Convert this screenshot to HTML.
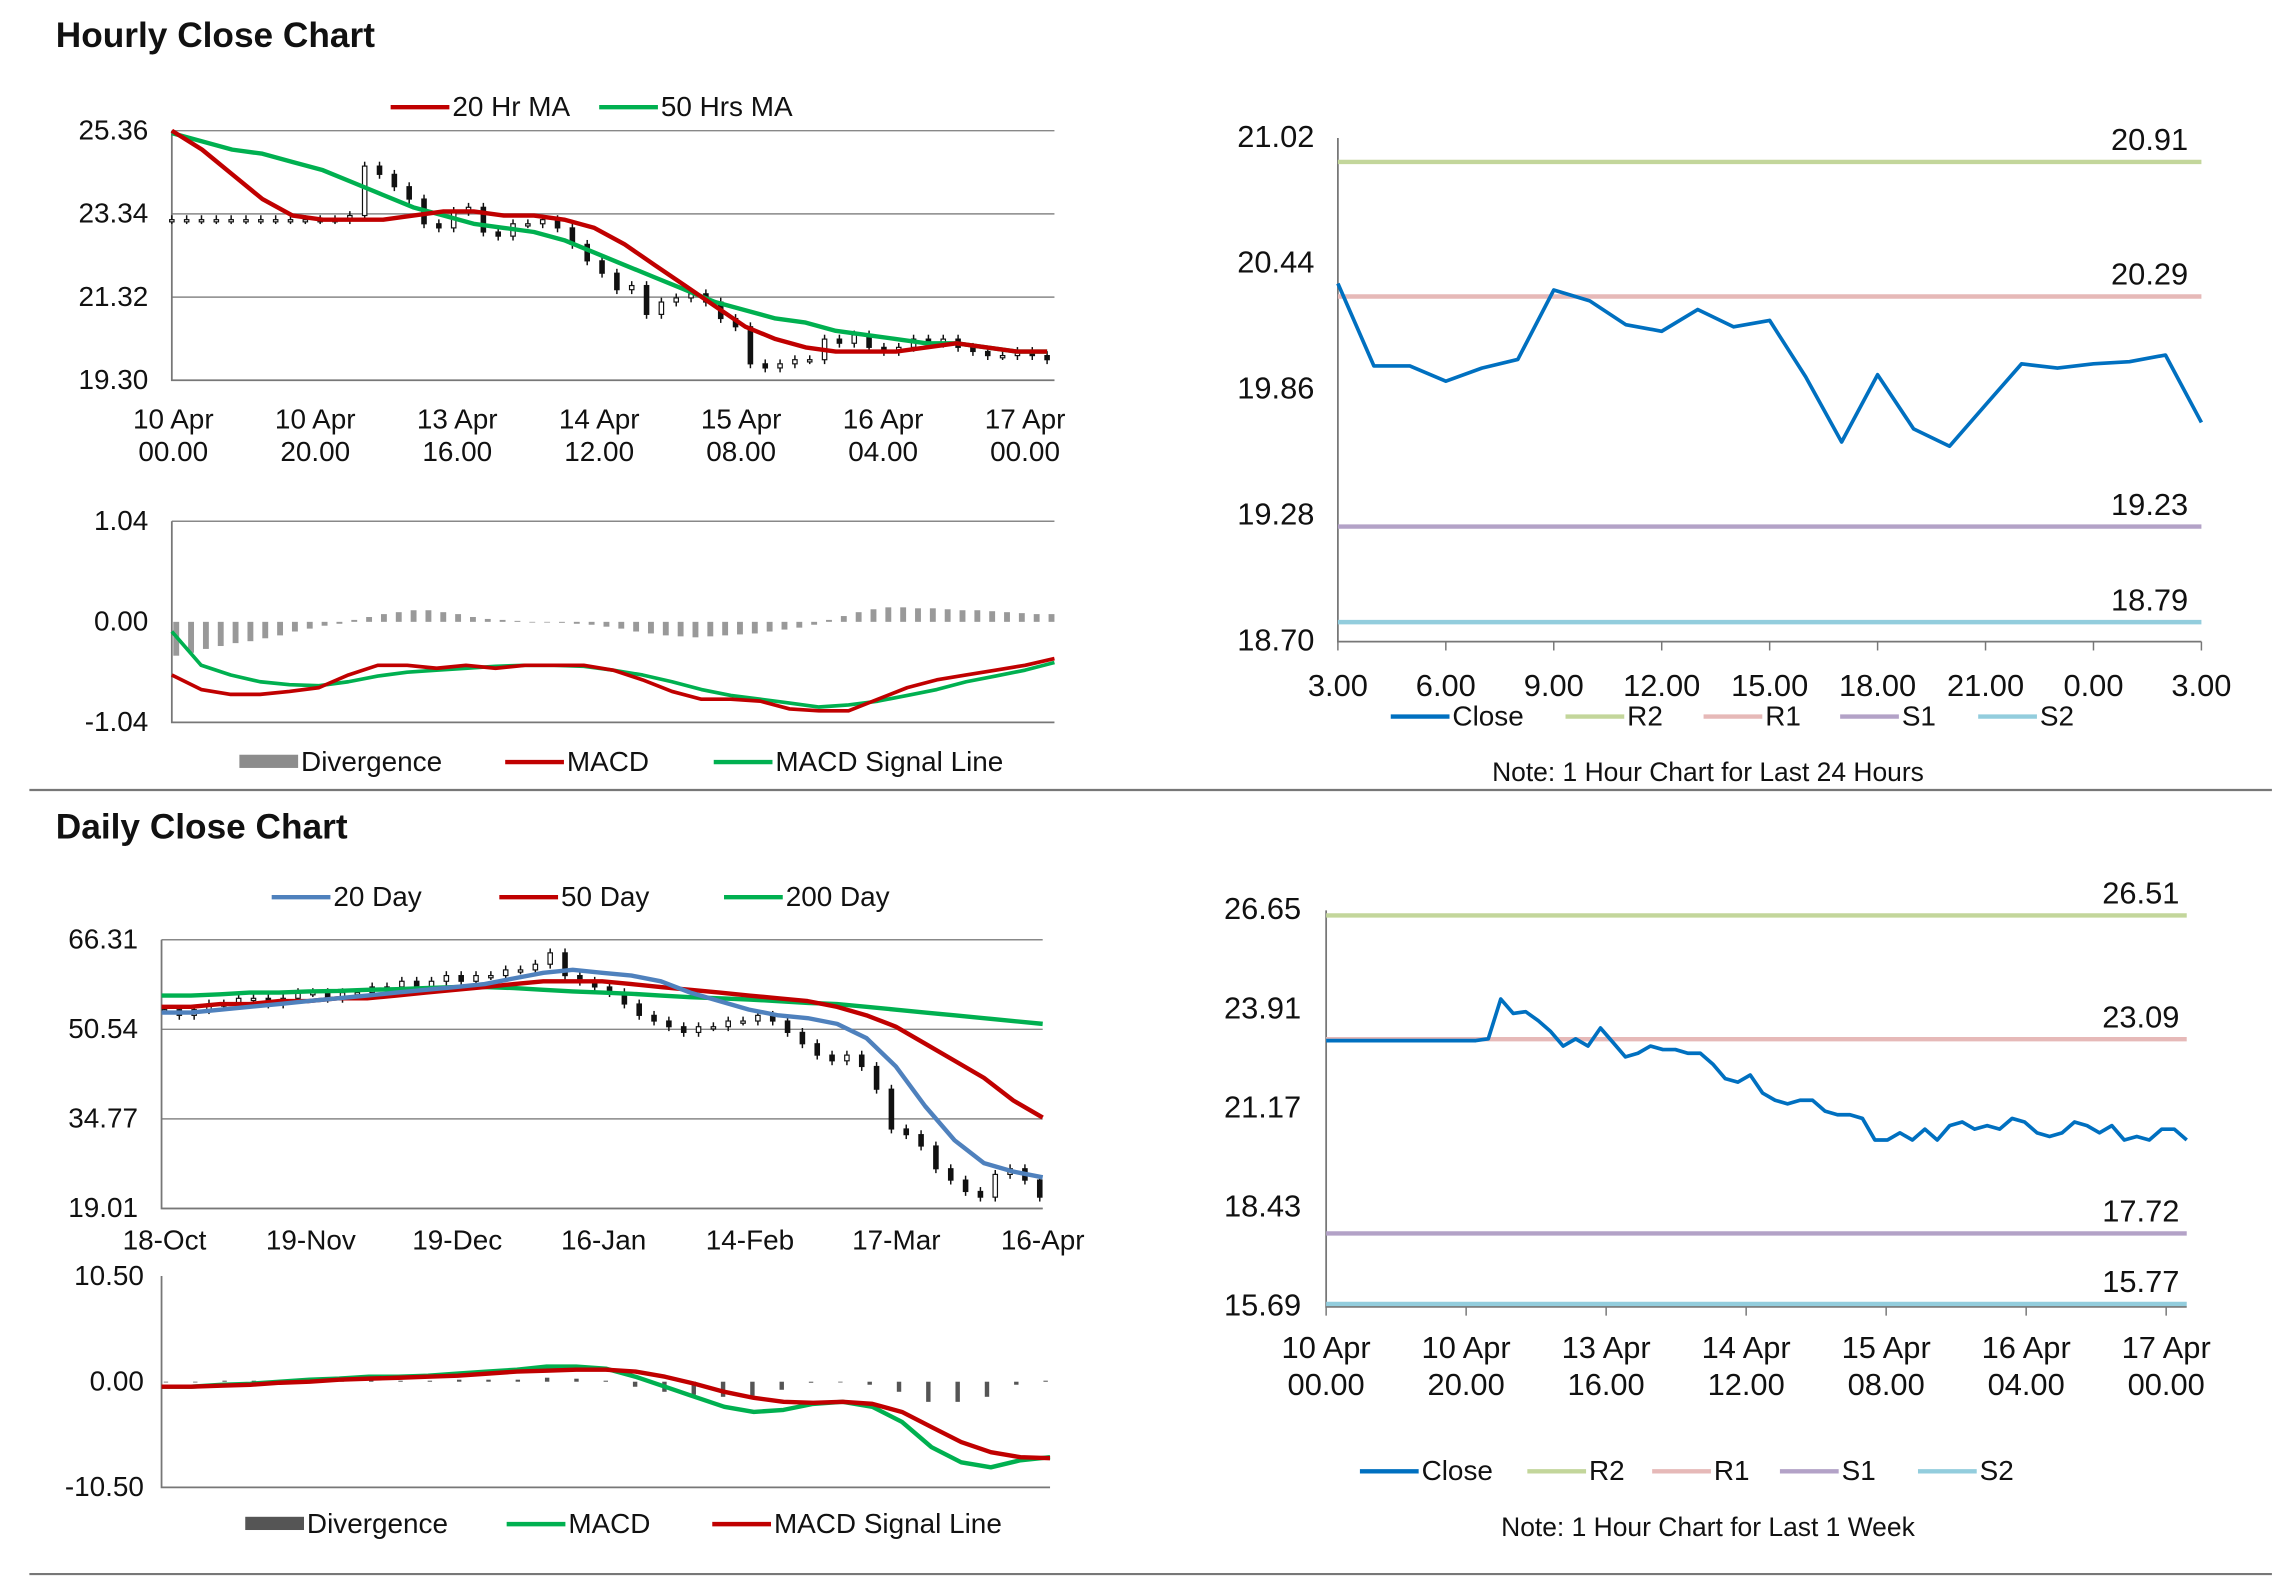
<!DOCTYPE html>
<html><head><meta charset="utf-8"><title>Charts</title>
<style>
html,body{margin:0;padding:0;background:#fff;}
svg{display:block;font-family:"Liberation Sans Narrow","Liberation Sans",sans-serif;}
.t{font-size:18px;fill:#111;}
.ttl{font-family:"Liberation Sans",sans-serif;font-weight:bold;font-size:24px;fill:#111;}
</style></head>
<body>
<svg id="root" width="2291" height="1577" viewBox="0 0 1560 1074" preserveAspectRatio="none" xmlns="http://www.w3.org/2000/svg">
<text class="ttl" x="38" y="32">Hourly Close Chart</text>
<text class="ttl" x="38" y="571">Daily Close Chart</text>
<line x1="20" y1="538" x2="1547" y2="538" stroke="#777" stroke-width="1.5"/>
<line x1="20" y1="1072" x2="1547" y2="1072" stroke="#777" stroke-width="1.5"/>
<text class="t" x="1163" y="532" text-anchor="middle">Note: 1 Hour Chart for Last 24 Hours</text>
<text class="t" x="1163" y="1046" text-anchor="middle">Note: 1 Hour Chart for Last 1 Week</text>
</svg>
<script>
// ---------- DATA ----------
const hourlyTicks=["25.36","23.34","21.32","19.30"];
const hourlyTickVals=[25.36,23.34,21.32,19.30];
const hourlyXLabels1=["10 Apr","10 Apr","13 Apr","14 Apr","15 Apr","16 Apr","17 Apr"];
const hourlyXLabels2=["00.00","20.00","16.00","12.00","08.00","04.00","00.00"];
const hourlyClose=[23.2,23.2,23.2,23.2,23.2,23.2,23.2,23.2,23.2,23.2,23.2,23.2,23.3,24.5,24.3,24.0,23.7,23.1,23.0,23.4,23.5,22.9,22.8,23.1,23.1,23.2,23.0,22.6,22.2,21.9,21.5,21.6,20.9,21.2,21.3,21.4,21.2,20.8,20.6,19.7,19.6,19.7,19.8,19.8,20.3,20.2,20.4,20.1,20.0,20.1,20.3,20.2,20.3,20.1,20.0,19.9,19.9,20.0,19.9,19.8];
const hourlyMA20=[25.36,24.9,24.3,23.7,23.3,23.2,23.2,23.2,23.3,23.4,23.4,23.3,23.3,23.2,23.0,22.6,22.1,21.6,21.1,20.6,20.3,20.1,20.0,20.0,20.0,20.1,20.2,20.1,20.0,20.0];
const hourlyMA50=[25.3,25.1,24.9,24.8,24.6,24.4,24.1,23.8,23.5,23.3,23.1,23.0,22.9,22.7,22.4,22.1,21.8,21.5,21.2,21.0,20.8,20.7,20.5,20.4,20.3,20.2,20.2,20.1,20.0,20.0];
const hMacdTicks=["1.04","0.00","-1.04"];
const hMacdTickVals=[1.04,0,-1.04];
const hMacd=[-0.55,-0.7,-0.75,-0.75,-0.72,-0.68,-0.55,-0.45,-0.45,-0.48,-0.45,-0.48,-0.45,-0.45,-0.45,-0.5,-0.6,-0.72,-0.8,-0.8,-0.82,-0.9,-0.92,-0.92,-0.8,-0.68,-0.6,-0.55,-0.5,-0.45,-0.38];
const hSignal=[-0.1,-0.45,-0.55,-0.62,-0.65,-0.66,-0.62,-0.56,-0.52,-0.5,-0.48,-0.46,-0.45,-0.45,-0.46,-0.5,-0.55,-0.62,-0.7,-0.76,-0.8,-0.84,-0.88,-0.86,-0.82,-0.76,-0.7,-0.62,-0.56,-0.5,-0.42];
const hDiv=[-0.35,-0.32,-0.28,-0.25,-0.22,-0.2,-0.17,-0.14,-0.1,-0.07,-0.04,-0.02,0.02,0.05,0.08,0.1,0.12,0.12,0.1,0.08,0.05,0.03,0.02,0.01,0,0,-0.01,-0.02,-0.03,-0.05,-0.07,-0.1,-0.12,-0.14,-0.15,-0.16,-0.15,-0.14,-0.13,-0.12,-0.1,-0.08,-0.06,-0.03,0.02,0.06,0.1,0.13,0.15,0.15,0.14,0.14,0.13,0.12,0.12,0.11,0.1,0.09,0.08,0.08];
const piv1Ticks=["21.02","20.44","19.86","19.28","18.70"];
const piv1TickVals=[21.02,20.44,19.86,19.28,18.70];
const piv1XLabels=["3.00","6.00","9.00","12.00","15.00","18.00","21.00","0.00","3.00"];
const piv1Close=[20.35,19.97,19.97,19.90,19.96,20.00,20.32,20.27,20.16,20.13,20.23,20.15,20.18,19.92,19.62,19.93,19.68,19.60,19.79,19.98,19.96,19.98,19.99,20.02,19.71];
const piv1Levels=[20.91,20.29,19.23,18.79];
const levelNames=["R2","R1","S1","S2"];
const dailyTicks=["66.31","50.54","34.77","19.01"];
const dailyTickVals=[66.31,50.54,34.77,19.01];
const dailyXLabels=["18-Oct","19-Nov","19-Dec","16-Jan","14-Feb","17-Mar","16-Apr"];
const dailyClose=[54,53,54,55,55,56,56,55,56,57,57,56,57,57,58,58,59,58,59,60,59,60,60,61,61,62,64,60,59,58,57,55,53,52,51,50,51,51,52,52,53,52,50,48,46,45,46,44,40,33,32,30,26,24,22,21,25,26,24,21];
const daily20=[53.5,53.5,54,54.5,55,55.5,56,56.5,57,57.5,58,58.5,59.5,60.5,61,60.5,60,59,57,55.5,54,53,52.5,51.5,49,44,37,31,27,25.5,24.5];
const daily50=[54.5,54.5,55,55,55.5,55.5,56,56,56.5,57,57.5,58,58.5,59,59,59,58.5,58,57.5,57,56.5,56,55.5,54.5,53,51,48,45,42,38,35];
const daily200=[56.5,56.5,56.7,57,57,57.2,57.3,57.5,57.6,57.8,58,58,57.8,57.5,57.2,57,56.8,56.5,56.2,56,55.8,55.5,55.2,55,54.5,54,53.5,53,52.5,52,51.5];
const dMacdTicks=["10.50","0.00","-10.50"];
const dMacdTickVals=[10.5,0,-10.5];
const dMacd=[-0.5,-0.5,-0.3,-0.2,0,0.2,0.3,0.5,0.5,0.6,0.8,1,1.2,1.5,1.5,1.3,0.5,-0.5,-1.5,-2.5,-3,-2.8,-2.2,-2,-2.5,-4,-6.5,-8,-8.5,-7.8,-7.5];
const dSignal=[-0.5,-0.5,-0.4,-0.3,-0.1,0,0.2,0.3,0.4,0.5,0.6,0.8,1,1.1,1.2,1.2,1,0.5,-0.2,-1,-1.6,-2,-2.1,-2,-2.2,-3,-4.5,-6,-7,-7.5,-7.6];
const dDiv=[0,0,0.1,0.1,0.1,0.2,0.1,0.2,0.1,0.1,0.2,0.2,0.2,0.4,0.3,0.1,-0.5,-1,-1.3,-1.5,-1.4,-0.8,-0.1,0,-0.3,-1,-2,-2,-1.5,-0.3,0.1];
const piv2Ticks=["26.65","23.91","21.17","18.43","15.69"];
const piv2TickVals=[26.65,23.91,21.17,18.43,15.69];
const piv2XLabels1=["10 Apr","10 Apr","13 Apr","14 Apr","15 Apr","16 Apr","17 Apr"];
const piv2XLabels2=["00.00","20.00","16.00","12.00","08.00","04.00","00.00"];
const piv2Close=[23.05,23.05,23.05,23.05,23.05,23.05,23.05,23.05,23.05,23.05,23.05,23.05,23.05,23.1,24.2,23.8,23.85,23.6,23.3,22.9,23.1,22.9,23.4,23.0,22.6,22.7,22.9,22.8,22.8,22.7,22.7,22.4,22.0,21.9,22.1,21.6,21.4,21.3,21.4,21.4,21.1,21.0,21.0,20.9,20.3,20.3,20.5,20.3,20.6,20.3,20.7,20.8,20.6,20.7,20.6,20.9,20.8,20.5,20.4,20.5,20.8,20.7,20.5,20.7,20.3,20.4,20.3,20.6,20.6,20.3];
const piv2Levels=[26.51,23.09,17.72,15.77];

// ---------- HELPERS ----------
const NS="http://www.w3.org/2000/svg";
const root=document.getElementById('root');
function mk(tag,attrs,parent){const e=document.createElementNS(NS,tag);for(const k in attrs)e.setAttribute(k,attrs[k]);(parent||root).appendChild(e);return e;}
function scaleY(v0,v1,y0,y1){return v=>y0+(v-v0)*(y1-y0)/(v1-v0);}
function xs(n,x0,x1){return i=>n<=1?x0:x0+i*(x1-x0)/(n-1);}
function linePath(arr,x0,x1,fy){const fx=xs(arr.length,x0,x1);return arr.map((v,i)=>(i?'L':'M')+fx(i).toFixed(1)+' '+fy(v).toFixed(1)).join(' ');}
function txt(s,x,y,anchor,size){const e=mk('text',{x:x,y:y,'text-anchor':anchor||'start',class:'t'});if(size)e.setAttribute('style','font-size:'+size+'px');e.textContent=s;return e;}
function series(arr,x0,x1,fy,color,w,name){const e=mk('path',{d:linePath(arr,x0,x1,fy),fill:'none',stroke:color,'stroke-width':w,'stroke-linejoin':'round'});


return e;}
function legend(x,y,color,label,isBox,name){let s;if(isBox){s=mk('rect',{x:x,y:y-5,width:40,height:9,fill:color});}else{s=mk('line',{x1:x,y1:y,x2:x+40,y2:y,stroke:color,'stroke-width':3});}


const t=txt(label,x+42,y+6,'start',19);

}
function yAxis(labels,vals,fy,x,grid,gx0,gx1,name,size){labels.forEach((l,i)=>{const t=txt(l,x,fy(vals[i])+6,'end',size||19);


if(grid){const g=mk('line',{x1:gx0,x2:gx1,y1:fy(vals[i]),y2:fy(vals[i]),stroke:'#888','stroke-width':1});

}});}
function frame(x0,y0,x1,y1,name){const a=mk('path',{d:`M${x0} ${y0} L${x0} ${y1} L${x1} ${y1}`,fill:'none',stroke:'#777','stroke-width':1.2});

}
function candles(arr,x0,x1,fy,w,name){const fx=xs(arr.length,x0,x1);arr.forEach((c,i)=>{const o=i?arr[i-1]:c;const hi=Math.max(o,c),lo=Math.min(o,c);const x=fx(i);
const wk=mk('line',{x1:x,x2:x,y1:fy(hi)-3,y2:fy(lo)+3,stroke:'#111','stroke-width':1});


const b=mk('rect',{x:x-w/2,y:fy(hi),width:w,height:Math.max(1.5,fy(lo)-fy(hi)),fill:c>=o?'#fff':'#111',stroke:'#111','stroke-width':0.8});

});}
function bars(arr,x0,x1,fy,color,w,name){const fx=xs(arr.length,x0,x1);const z=fy(0);arr.forEach((v,i)=>{const y=fy(v);
const b=mk('rect',{x:fx(i)-w/2,y:Math.min(y,z),width:w,height:Math.max(0.5,Math.abs(y-z)),fill:color});

});}
function levels(vals,fy,x0,x1,colors,labelX,name){vals.forEach((v,i)=>{const l=mk('line',{x1:x0,x2:x1,y1:fy(v),y2:fy(v),stroke:colors[i],'stroke-width':3});


const t=txt(v.toFixed(2),labelX,fy(v)-8,'end',21);

});}
const RED='#c00000',GREEN='#00b050',BLUE='#0070c0',LBLUE='#4f81bd';
const LVL=['#c3d69b','#e6b9b8','#b3a2c7','#93cddd'];

// ---------- HOURLY CANDLE CHART ----------
(function(){const x0=117,x1=718,fy=scaleY(25.36,19.30,89,259);
yAxis(hourlyTicks,hourlyTickVals,fy,101,true,x0,x1,'hourly-y');
frame(x0,89,x1,259,'hourly-axes');
candles(hourlyClose,x0,713,fy,3,'hourly');
series(hourlyMA50,x0,713,fy,GREEN,3,'hourly-50hr-ma-line');
series(hourlyMA20,x0,713,fy,RED,3,'hourly-20hr-ma-line');
const fx=xs(hourlyXLabels1.length,118,698);
hourlyXLabels1.forEach((l,i)=>{const a=txt(l,fx(i),292,'middle',19);


const b=txt(hourlyXLabels2[i],fx(i),314,'middle',19);

});
legend(266,73,RED,'20 Hr MA',false,'legend-20hr-ma');
legend(408,73,GREEN,'50 Hrs MA',false,'legend-50hrs-ma');
})();
// ---------- HOURLY MACD ----------
(function(){const x0=117,x1=718,fy=scaleY(1.04,-1.04,355,492);
yAxis(hMacdTicks,hMacdTickVals,fy,101,false,0,0,'hourly-macd-y');
const g=mk('line',{x1:x0,x2:x1,y1:355,y2:355,stroke:'#888','stroke-width':1});


frame(x0,355,x1,492,'hourly-macd-axes');
bars(hDiv,x0+3,x1-2,fy,'#999',4,'hourly-divergence-bar');
series(hSignal,x0,x1,fy,GREEN,2.5,'hourly-macd-signal-line');
series(hMacd,x0,x1,fy,RED,2.5,'hourly-macd-line');
legend(163,519,'#8c8c8c','Divergence',true,'legend-hourly-divergence');
legend(344,519,RED,'MACD',false,'legend-hourly-macd');
legend(486,519,GREEN,'MACD Signal Line',false,'legend-hourly-signal');
})();
// ---------- PIVOT 24H ----------
(function(){const x0=911,x1=1499,fy=scaleY(21.02,18.70,94,437);
yAxis(piv1Ticks,piv1TickVals,fy,895,false,0,0,'pivot24-y',21);
frame(x0,94,x1,437,'pivot24-axes');
const fx=xs(piv1XLabels.length,x0,x1);
piv1XLabels.forEach((l,i)=>{const t=txt(l,fx(i),474,'middle',21);


const k=mk('line',{x1:fx(i),x2:fx(i),y1:437,y2:443,stroke:'#777'});

});
levels(piv1Levels,fy,x0,x1,LVL,1490,'pivot24');
series(piv1Close,x0,x1,fy,BLUE,2.5,'pivot24-close-line');
legend(947,488,BLUE,'Close',false,'legend-pivot24-close');
legend(1066,488,LVL[0],'R2',false,'legend-pivot24-r2');
legend(1160,488,LVL[1],'R1',false,'legend-pivot24-r1');
legend(1253,488,LVL[2],'S1',false,'legend-pivot24-s1');
legend(1347,488,LVL[3],'S2',false,'legend-pivot24-s2');
})();
// ---------- DAILY CANDLE CHART ----------
(function(){const x0=110,x1=710,fy=scaleY(66.31,19.01,640,823);
yAxis(dailyTicks,dailyTickVals,fy,94,true,x0,x1,'daily-y');
frame(x0,640,x1,823,'daily-axes');
candles(dailyClose,x0+2,x1-2,fy,3,'daily');
series(daily200,x0,x1,fy,GREEN,3,'daily-200day-line');
series(daily50,x0,x1,fy,RED,3,'daily-50day-line');
series(daily20,x0,x1,fy,LBLUE,3,'daily-20day-line');
const fx=xs(dailyXLabels.length,112,710);
dailyXLabels.forEach((l,i)=>{const t=txt(l,fx(i),851,'middle',19);

});
legend(185,611,LBLUE,'20 Day',false,'legend-20day');
legend(340,611,RED,'50 Day',false,'legend-50day');
legend(493,611,GREEN,'200 Day',false,'legend-200day');
})();
// ---------- DAILY MACD ----------
(function(){const x0=110,x1=715,fy=scaleY(10.5,-10.5,869,1013);
yAxis(dMacdTicks,dMacdTickVals,fy,98,false,0,0,'daily-macd-y');
frame(x0,869,x1,1013,'daily-macd-axes');
bars(dDiv,x0+3,x1-3,fy,'#555',3,'daily-divergence-bar');
series(dMacd,x0,x1,fy,GREEN,3,'daily-macd-line');
series(dSignal,x0,x1,fy,RED,3,'daily-macd-signal-line');
legend(167,1038,'#555','Divergence',true,'legend-daily-divergence');
legend(345,1038,GREEN,'MACD',false,'legend-daily-macd');
legend(485,1038,RED,'MACD Signal Line',false,'legend-daily-signal');
})();
// ---------- PIVOT 1 WEEK ----------
(function(){const x0=903,x1=1489,fy=scaleY(26.65,15.69,620,890);
yAxis(piv2Ticks,piv2TickVals,fy,886,false,0,0,'pivotweek-y',21);
frame(x0,620,x1,890,'pivotweek-axes');
const fx=xs(piv2XLabels1.length,903,1475);
piv2XLabels1.forEach((l,i)=>{const a=txt(l,fx(i),925,'middle',21);


const b=txt(piv2XLabels2[i],fx(i),950,'middle',21);


const k=mk('line',{x1:fx(i),x2:fx(i),y1:890,y2:896,stroke:'#777'});

});
levels(piv2Levels,fy,x0,x1,LVL,1484,'pivotweek');
series(piv2Close,x0,1489,fy,BLUE,2.5,'pivotweek-close-line');
legend(926,1002,BLUE,'Close',false,'legend-pivotweek-close');
legend(1040,1002,LVL[0],'R2',false,'legend-pivotweek-r2');
legend(1125,1002,LVL[1],'R1',false,'legend-pivotweek-r1');
legend(1212,1002,LVL[2],'S1',false,'legend-pivotweek-s1');
legend(1306,1002,LVL[3],'S2',false,'legend-pivotweek-s2');
})();
</script>
</body></html>
